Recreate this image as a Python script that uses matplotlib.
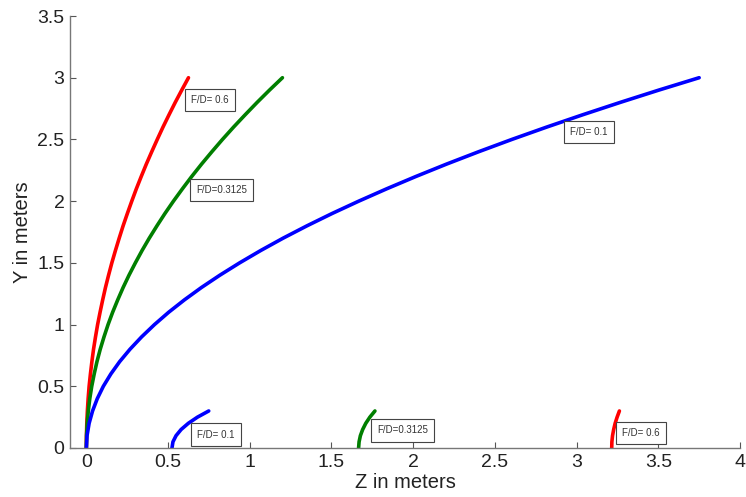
import matplotlib
matplotlib.use("Agg")
import matplotlib.pyplot as plt

plt.rcParams['font.family'] = ['Liberation Sans', 'DejaVu Sans']

# Large reflector profiles (Y in m vs Z in m)
y_big = [0.0, 0.1, 0.2, 0.3, 0.4, 0.5, 0.6, 0.7, 0.8, 0.9, 1.0, 1.1, 1.2, 1.3, 1.4, 1.5,
         1.6, 1.7, 1.8, 1.9, 2.0, 2.1, 2.2, 2.3, 2.4, 2.5, 2.6, 2.7, 2.8, 2.9, 3.0]
z_fd06 = [0.0, 0.0007, 0.0028, 0.0063, 0.011, 0.017, 0.025, 0.034, 0.044, 0.056, 0.069,
          0.084, 0.100, 0.117, 0.136, 0.156, 0.178, 0.201, 0.225, 0.251, 0.278, 0.306,
          0.336, 0.367, 0.400, 0.434, 0.469, 0.506, 0.544, 0.584, 0.625]
z_fd03125 = [0.0, 0.0013, 0.0053, 0.012, 0.021, 0.033, 0.048, 0.065, 0.085, 0.108, 0.133,
             0.161, 0.192, 0.225, 0.261, 0.300, 0.341, 0.385, 0.432, 0.481, 0.533, 0.588,
             0.645, 0.705, 0.768, 0.833, 0.901, 0.972, 1.045, 1.121, 1.200]
z_fd01 = [0.0, 0.0042, 0.017, 0.038, 0.067, 0.104, 0.150, 0.204, 0.267, 0.338, 0.417,
          0.504, 0.600, 0.704, 0.817, 0.938, 1.067, 1.204, 1.350, 1.504, 1.667, 1.838,
          2.017, 2.204, 2.400, 2.604, 2.817, 3.038, 3.267, 3.504, 3.750]

# Small profiles near the Z axis
y_small = [0.0, 0.05, 0.1, 0.15, 0.2, 0.25, 0.3]
zs_fd01 = [0.524, 0.530, 0.549, 0.580, 0.624, 0.680, 0.749]
zs_fd03125 = [1.666, 1.669, 1.677, 1.691, 1.710, 1.735, 1.766]
zs_fd06 = [3.215, 3.216, 3.220, 3.227, 3.236, 3.248, 3.262]

# Labels: (text, z, y)
labels = [("F/D= 0.6", 0.64, 2.82),
          ("F/D=0.3125", 0.67, 2.09),
          ("F/D= 0.1", 2.96, 2.56),
          ("F/D= 0.1", 0.68, 0.108),
          ("F/D=0.3125", 1.78, 0.144),
          ("F/D= 0.6", 3.28, 0.122)]

xticks = [0, 0.5, 1, 1.5, 2, 2.5, 3, 3.5, 4]
xtick_labels = ["0", "0.5", "1", "1.5", "2", "2.5", "3", "3.5", "4"]
yticks = [0, 0.5, 1, 1.5, 2, 2.5, 3, 3.5]
ytick_labels = ["0", "0.5", "1", "1.5", "2", "2.5", "3", "3.5"]

fig = plt.figure(figsize=(7.46, 4.97), dpi=100)
ax = fig.add_axes([70/746, 49/497, 670/746, 432/497])

lw = 2.6
ax.plot(z_fd06, y_big, color='#ff0000', lw=lw, solid_capstyle='round')
ax.plot(z_fd03125, y_big, color='#007f00', lw=lw, solid_capstyle='round')
ax.plot(z_fd01, y_big, color='#0000ff', lw=lw, solid_capstyle='round')
ax.plot(zs_fd01, y_small, color='#0000ff', lw=lw, solid_capstyle='round')
ax.plot(zs_fd03125, y_small, color='#007f00', lw=lw, solid_capstyle='round')
ax.plot(zs_fd06, y_small, color='#ff0000', lw=lw, solid_capstyle='round')

for txt, zx, yy in labels:
    ax.text(zx, yy, txt, fontsize=7, color='#333333', ha='left', va='center',
            bbox=dict(boxstyle='square,pad=0.65', fc='white', ec='#444444', lw=0.8))

ax.set_xlim(-0.1, 4)
ax.set_ylim(0, 3.5)
ax.set_xticks(xticks)
ax.set_xticklabels(xtick_labels)
ax.set_yticks(yticks)
ax.set_yticklabels(ytick_labels)
ax.tick_params(direction='in', length=4, width=0.8, color='#555555',
               labelsize=14, labelcolor='#222222', pad=4)
for s in ['top', 'right']:
    ax.spines[s].set_visible(False)
for s in ['left', 'bottom']:
    ax.spines[s].set_color('#777777')
    ax.spines[s].set_linewidth(1.0)

ax.set_xlabel("Z in meters", fontsize=14.5, color='#222222', labelpad=2)
ax.set_ylabel("Y in meters", fontsize=14.5, color='#222222', labelpad=4)

fig.savefig("out.png", dpi=100)
